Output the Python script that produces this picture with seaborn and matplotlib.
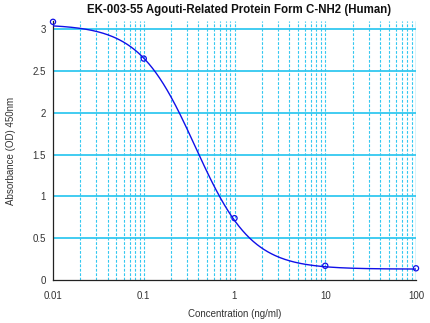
import numpy as np
import pandas as pd
import matplotlib
matplotlib.use("Agg")
import matplotlib.pyplot as plt
import seaborn as sns
from matplotlib.ticker import FixedLocator, MultipleLocator, FuncFormatter

# Standard points
concentration = [0.01, 0.1, 1, 10, 100]
absorbance = [3.09, 2.65, 0.74, 0.17, 0.14]

# 4-parameter logistic fit parameters
fit_top = 3.06
fit_bottom = 0.13
fit_ec50 = 0.37
fit_slope = 1.4

title = "EK-003-55 Agouti-Related Protein Form C-NH2 (Human)"
x_label = "Concentration (ng/ml)"
y_label = "Absorbance (OD) 450nm"
x_ticks = [0.01, 0.1, 1, 10, 100]
x_tick_labels = ["0.01", "0.1", "1", "10", "100"]
y_ticks = [0, 0.5, 1, 1.5, 2, 2.5, 3]
y_tick_labels = ["0", "0.5", "1", "1.5", "2", "2.5", "3"]

sns.set_style("white")
plt.rcParams["font.family"] = ["Liberation Sans", "DejaVu Sans"]

fig = plt.figure(figsize=(4.3, 3.23), dpi=100)
ax = fig.add_axes([53/430, 43/323, (416-53)/430, (280-21)/323])

curve_x = np.logspace(np.log10(0.01), np.log10(100), 300)
curve_y = fit_bottom + (fit_top - fit_bottom) / (1 + (curve_x / fit_ec50) ** fit_slope)
curve_df = pd.DataFrame({"x": curve_x, "y": curve_y})
pts_df = pd.DataFrame({"x": concentration, "y": absorbance})

ax.set_xscale("log")
ax.set_xlim(0.01, 100)
ax.set_ylim(0, 3.1)

# grid lines
grid_color = "#33c8f0"
minor_pos = [m * 10.0 ** e for e in range(-2, 2) for m in range(2, 10)]
for xv in minor_pos + [0.1, 1, 10]:
    ax.axvline(xv, color=grid_color, lw=0.8, ls=(0, (2.5, 1.5)), zorder=1)
ax.axvline(100, color=grid_color, lw=1.0, zorder=1)
for yv in y_ticks[1:]:
    ax.axhline(yv, color=grid_color, lw=1.3, zorder=1)

sns.lineplot(data=curve_df, x="x", y="y", ax=ax, color="#1010e8", lw=1.0, zorder=3)
sns.scatterplot(data=pts_df, x="x", y="y", ax=ax, marker="o", s=14,
                facecolor="none", edgecolor="#1010e8", linewidth=0.9, zorder=4, clip_on=False)

ax.xaxis.set_major_locator(FixedLocator(x_ticks))
ax.set_xticklabels(x_tick_labels)
ax.xaxis.set_minor_locator(FixedLocator(minor_pos))
ax.xaxis.set_minor_formatter(FuncFormatter(lambda v, p: ""))
ax.yaxis.set_major_locator(FixedLocator(y_ticks))
ax.set_yticklabels(y_tick_labels)
ax.yaxis.set_minor_locator(MultipleLocator(0.1))

ax.tick_params(axis="both", which="major", direction="out", length=4, width=0.8,
               labelsize=7, colors="#222222", labelcolor="#333333")
ax.tick_params(axis="both", which="minor", direction="out", length=2, width=0.6,
               colors="#222222")
ax.tick_params(axis="x", which="major", pad=4)
ax.tick_params(axis="y", which="major", pad=1)

for side in ["top", "right"]:
    ax.spines[side].set_visible(False)
for side in ["left", "bottom"]:
    ax.spines[side].set_color("#222222")
    ax.spines[side].set_linewidth(0.9)

ax.set_xlabel(x_label, fontsize=7, color="#333333", labelpad=6)
ax.set_ylabel(y_label, fontsize=7, color="#333333", labelpad=12)
fig.text(239/430, 1 - 10.5/323, title, ha="center", va="center", fontsize=8.3,
         fontweight="bold", color="#111111")

fig.savefig("out.png", dpi=100)
